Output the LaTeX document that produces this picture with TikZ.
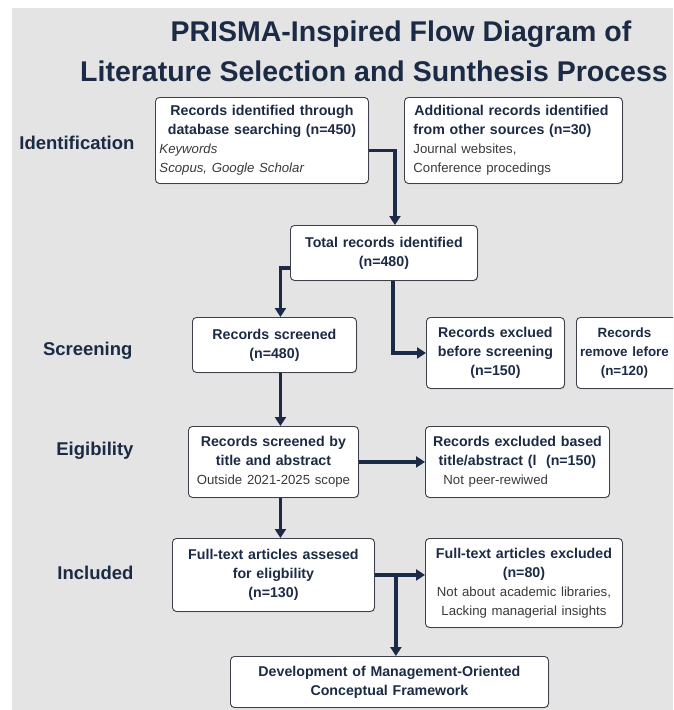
\documentclass[tikz,border=0pt]{standalone}
\usepackage{fontspec}
\setmainfont{Liberation Sans}
\usetikzlibrary{arrows.meta,shadows}
\definecolor{bgc}{HTML}{E4E4E4}
\definecolor{headc}{HTML}{1C2B45}
\definecolor{subc}{HTML}{3A3A3A}
\definecolor{borderc}{HTML}{3C4048}
\definecolor{arrc}{HTML}{1B2A47}
\tikzset{
  box/.style={draw=borderc, fill=white, rounded corners=4pt, line width=0.9pt,
    anchor=north west, inner xsep=4pt, inner ysep=2pt,
    drop shadow={opacity=0.18, shadow xshift=1pt, shadow yshift=-1pt},
    font=\fontsize{14.2}{19}\selectfont},
  arr/.style={draw=arrc, line width=3.6pt,
    -{Triangle[length=9pt,width=11pt]}},
  phase/.style={anchor=east, font=\fontsize{18.5}{22}\selectfont\bfseries, text=headc},
  ttl/.style={font=\fontsize{28.5}{33}\selectfont\bfseries, text=headc}
}
\newcommand{\hdl}[1]{{\bfseries\color{headc}#1}}
\newcommand{\sbl}[1]{{\fontsize{13.2}{18.5}\selectfont\color{subc}#1}}
\begin{document}
\begin{tikzpicture}[x=1pt,y=-1pt]
\useasboundingbox (0,0) rectangle (673,710);
\clip (0,0) rectangle (673,710);
\fill[white] (0,0) rectangle (673,710);
\fill[bgc] (12,8) rectangle (673,710);

% title
\node[ttl] (t1) at (401,34) {PRISMA-Inspired Flow Diagram of};
\node[ttl] (t2) at (374,71) {Literature Selection and Sunthesis Process};

% phase labels
\node[phase] (p1) at (138,143) {Identification};
\node[phase] (p2) at (136,351) {Screening};
\node[phase] (p3) at (137,451) {Eigibility};
\node[phase] (p4) at (137,573) {Included};

% boxes
\node[box, minimum width=213pt, minimum height=86pt, text width=205pt] (A) at (155,97)
 {{\centering\hdl{Records identified through\\database searching (n=450)}\par}
  {\raggedright\sbl{\itshape Keywords\\Scopus, Google Scholar}\par}};
\node[box, minimum width=218pt, minimum height=86pt, text width=206pt] (B) at (404,97)
 {{\raggedright\hspace*{4pt}\hdl{Additional records identified}\\\hspace*{3pt}\hdl{from other sources (n=30)}\\
  \hspace*{3pt}\sbl{Journal websites,}\\\hspace*{3pt}\sbl{Conference procedings}\par}};
\node[box, minimum width=187pt, minimum height=55pt, text width=179pt, align=center] (T) at (290,225)
 {\hdl{Total records identified}\\\hdl{(n=480)}};
\node[box, minimum width=164pt, minimum height=55pt, text width=156pt, align=center] (S) at (192,317)
 {\hdl{Records screened}\\\hdl{(n=480)}};
\node[box, minimum width=138pt, minimum height=71pt, text width=130pt, align=center] (E1) at (426,317)
 {\hdl{Records exclued}\\\hdl{before screening}\\\hdl{(n=150)}};
\node[box, minimum width=110pt, minimum height=71pt, text width=102pt] (E2) at (576,317)
 {\makebox[102pt][l]{\hspace*{-2pt}\parbox{92pt}{\centering\fontsize{13.4}{19}\selectfont
   \hdl{Records}\\\hdl{remove lefore}\\\hdl{(n=120)}}}};
\node[box, minimum width=170pt, minimum height=71pt, text width=162pt, align=center] (TA) at (188,426)
 {\hdl{Records screened by}\\\hdl{title and abstract}\\\sbl{Outside 2021-2025 scope}};
\node[box, minimum width=184pt, minimum height=71pt, text width=176pt] (EB) at (425,426)
 {{\centering\hdl{Records excluded based}\\\hdl{title/abstract (l~~(n=150)}\par}
  {\raggedright\hspace*{14pt}\sbl{Not peer-rewiwed}\par}};
\node[box, minimum width=202pt, minimum height=73pt, text width=194pt, align=center] (F) at (172,538)
 {\hdl{Full-text articles assesed}\\\hdl{for eligbility}\\\hdl{(n=130)}};
\node[box, minimum width=197pt, minimum height=89pt, text width=189pt, align=center] (EF) at (425,538)
 {\hdl{Full-text articles excluded}\\\hdl{(n=80)}\\\sbl{Not about academic libraries,}\\\sbl{Lacking managerial insights}};
\node[box, minimum width=318pt, minimum height=51pt, text width=310pt, align=center] (D) at (230,656)
 {\hdl{Development of Management-Oriented}\\\hdl{Conceptual Framework}};

% connectors
\draw[arr] ([yshift=-10pt]A.east) -| ([xshift=11pt]T.north);
\draw[arr] ([yshift=-15pt]T.west) -| ([xshift=6pt]S.north);
\draw[arr] ([xshift=9pt]T.south) |- (E1.west);
\draw[arr] ([xshift=6pt]S.south) -- ([xshift=7pt]TA.north);
\draw[arr] (TA.east) -- (EB.west);
\draw[arr] ([xshift=7pt]TA.south) -- ([xshift=7pt]F.north);
\draw[arr] (F.east) -- (F.east -| EF.west);
\draw[arr] ([xshift=21pt]F.east) -- ([xshift=21pt]F.east |- D.north);
\end{tikzpicture}
\end{document}
